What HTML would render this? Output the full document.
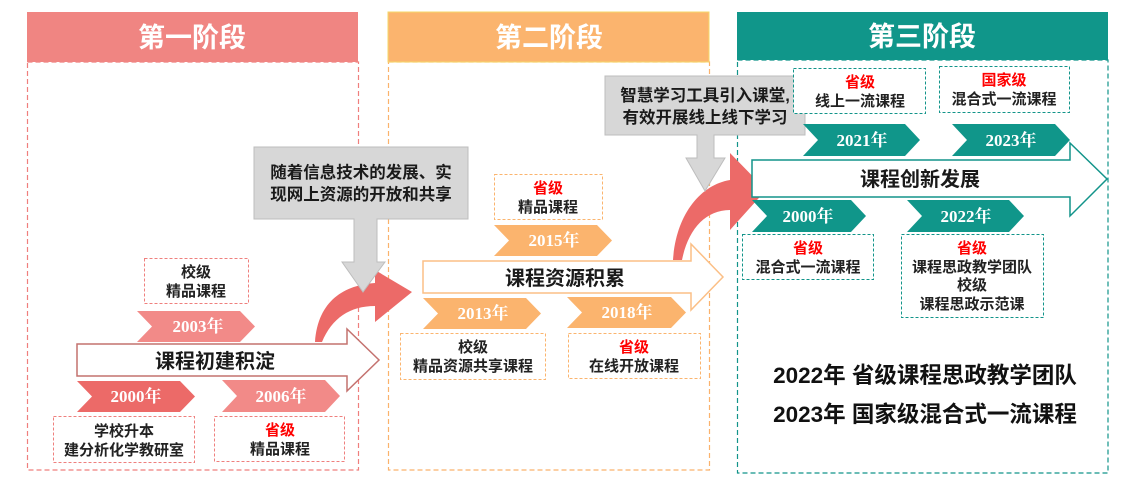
<!DOCTYPE html>
<html><head><meta charset="utf-8"><style>
html,body{margin:0;padding:0;background:#fff;}
svg{display:block;}
text{font-family:"Liberation Sans","Noto Sans CJK SC",sans-serif;font-weight:bold;}
.y{font-family:"Liberation Serif","Noto Serif CJK SC",serif;font-weight:bold;fill:#fff;font-size:17px;}
</style></head><body>
<svg width="1134" height="488" viewBox="0 0 1134 488" xmlns="http://www.w3.org/2000/svg">
<!-- stage frames -->
<rect x="27.5" y="62" width="331" height="408" fill="none" stroke="#ef7f7d" stroke-width="1.2" stroke-dasharray="5,3"/>
<rect x="388.5" y="62" width="321" height="408" fill="none" stroke="#fbb26c" stroke-width="1.2" stroke-dasharray="5,3"/>
<rect x="737.5" y="60" width="370.5" height="413" fill="none" stroke="#12948a" stroke-width="1.2" stroke-dasharray="5,3"/>
<!-- headers -->
<rect x="27" y="12" width="331" height="50" fill="#f08582"/>
<text x="192" y="47" font-size="27" fill="#fff" text-anchor="middle">第一阶段</text>
<rect x="388" y="12" width="321" height="50" fill="#fbb46e" stroke="#f5d76a" stroke-width="1"/>
<text x="549" y="47" font-size="27" fill="#fff" text-anchor="middle">第二阶段</text>
<rect x="737" y="12" width="371" height="48" fill="#10968a"/>
<text x="922" y="46" font-size="27" fill="#fff" text-anchor="middle">第三阶段</text>

<!-- stage 1 -->
<polygon points="77,344 347,344 347,329 379,360 347,391 347,376 77,376" fill="#fff" stroke="#c4726f" stroke-width="1.5"/>
<text x="215" y="368" font-size="20" fill="#1a1a1a" text-anchor="middle">课程初建积淀</text>
<polygon points="137,311 240,311 255,326.5 240,342 137,342 152,326.5" fill="#f28a88"/>
<text class="y" x="198" y="332" text-anchor="middle">2003年</text>
<polygon points="77,381 180,381 195,396.5 180,412 77,412 92,396.5" fill="#ec6a68"/>
<text class="y" x="136" y="402" text-anchor="middle">2000年</text>
<polygon points="222,380 325,380 340,396 325,412 222,412 237,396" fill="#f28a88"/>
<text class="y" x="281" y="402" text-anchor="middle">2006年</text>
<rect x="144.5" y="258.5" width="104" height="45" fill="#fff" stroke="#ef7f7d" stroke-dasharray="3,2"/>
<text x="196" y="277" font-size="15" fill="#222" text-anchor="middle">校级</text>
<text x="196" y="296" font-size="15" fill="#222" text-anchor="middle">精品课程</text>
<rect x="53.5" y="416.5" width="141" height="46" fill="#fff" stroke="#ef7f7d" stroke-dasharray="3,2"/>
<text x="124" y="436" font-size="15" fill="#222" text-anchor="middle">学校升本</text>
<text x="124" y="455" font-size="15" fill="#222" text-anchor="middle">建分析化学教研室</text>
<rect x="214.5" y="416.5" width="130" height="45" fill="#fff" stroke="#ef7f7d" stroke-dasharray="3,2"/>
<text x="280" y="435" font-size="15" fill="#f00" text-anchor="middle">省级</text>
<text x="280" y="454" font-size="15" fill="#222" text-anchor="middle">精品课程</text>

<!-- red arrows (below gray) -->
<path d="M315,342 C318,300 345,285 375,283 L375,270 L412,292 L375,322 L375,306 C350,306 332,318 322,342 Z" fill="#ec6a68"/>
<path d="M673,260 C676,215 700,185 730,180 L730,153 L766,190 L730,230 L730,210 C705,210 688,230 682,260 Z" fill="#ec6a68"/>

<!-- callout 1 -->
<polygon points="254,147 468,147 468,219 377,219 377,262 385,262 363,292 342,262 354,262 354,219 254,219" fill="#d7d7d7" stroke="#bdbdbd" stroke-width="1"/>
<text x="361" y="178" font-size="16.5" fill="#1a1a1a" text-anchor="middle">随着信息技术的发展、实</text>
<text x="361" y="200" font-size="16.5" fill="#1a1a1a" text-anchor="middle">现网上资源的开放和共享</text>

<!-- stage 2 -->
<polygon points="423,261 691,261 691,244 723,277 691,310 691,293 423,293" fill="#fff" stroke="#fbbf86" stroke-width="1.5"/>
<text x="565" y="285" font-size="20" fill="#1a1a1a" text-anchor="middle">课程资源积累</text>
<polygon points="494,225 597,225 612,240.5 597,256 494,256 509,240.5" fill="#fbb46e"/>
<text class="y" x="554" y="246" text-anchor="middle">2015年</text>
<polygon points="423,298 526,298 541,313.5 526,329 423,329 438,313.5" fill="#fbb46e"/>
<text class="y" x="483" y="319" text-anchor="middle">2013年</text>
<polygon points="567,297 671,297 686,312.5 671,328 567,328 582,312.5" fill="#fbb46e"/>
<text class="y" x="627" y="318" text-anchor="middle">2018年</text>
<rect x="494.5" y="174.5" width="108" height="45" fill="#fff" stroke="#fbb46e" stroke-dasharray="3,2"/>
<text x="548" y="193" font-size="15" fill="#f00" text-anchor="middle">省级</text>
<text x="548" y="212" font-size="15" fill="#222" text-anchor="middle">精品课程</text>
<rect x="400.5" y="333.5" width="145" height="46" fill="#fff" stroke="#fbb46e" stroke-dasharray="3,2"/>
<text x="473" y="352" font-size="15" fill="#222" text-anchor="middle">校级</text>
<text x="473" y="371" font-size="15" fill="#222" text-anchor="middle">精品资源共享课程</text>
<rect x="568.5" y="333.5" width="132" height="45" fill="#fff" stroke="#fbb46e" stroke-dasharray="3,2"/>
<text x="634" y="352" font-size="15" fill="#f00" text-anchor="middle">省级</text>
<text x="634" y="371" font-size="15" fill="#222" text-anchor="middle">在线开放课程</text>

<!-- callout 2 -->
<polygon points="605,76 805,76 805,135 714,135 714,158 725,158 705,191 686,158 697,158 697,135 605,135" fill="#d7d7d7" stroke="#bdbdbd" stroke-width="1"/>
<text x="705" y="101" font-size="16.5" fill="#1a1a1a" text-anchor="middle">智慧学习工具引入课堂,</text>
<text x="705" y="123" font-size="16.5" fill="#1a1a1a" text-anchor="middle">有效开展线上线下学习</text>

<!-- stage 3 -->
<polygon points="752,160 1070,160 1070,143 1107,179 1070,216 1070,197 752,197" fill="#fff" stroke="#12948a" stroke-width="1.5"/>
<text x="920" y="186" font-size="20" fill="#1a1a1a" text-anchor="middle">课程创新发展</text>
<polygon points="803,124 905,124 920,140 905,156 803,156 818,140" fill="#10968a"/>
<text class="y" x="862" y="146" text-anchor="middle">2021年</text>
<polygon points="952,124 1055,124 1070,140 1055,156 952,156 967,140" fill="#10968a"/>
<text class="y" x="1011" y="146" text-anchor="middle">2023年</text>
<polygon points="752,200 851,200 866,216 851,232 752,232 767,216" fill="#10968a"/>
<text class="y" x="808" y="222" text-anchor="middle">2000年</text>
<polygon points="907,200 1009,200 1024,216 1009,232 907,232 922,216" fill="#10968a"/>
<text class="y" x="966" y="222" text-anchor="middle">2022年</text>
<rect x="793.5" y="68.5" width="132" height="45" fill="#fff" stroke="#12948a" stroke-dasharray="3,2"/>
<text x="860" y="87" font-size="15" fill="#f00" text-anchor="middle">省级</text>
<text x="860" y="106" font-size="15" fill="#222" text-anchor="middle">线上一流课程</text>
<rect x="939.5" y="66.5" width="130" height="46" fill="#fff" stroke="#12948a" stroke-dasharray="3,2"/>
<text x="1004" y="85" font-size="15" fill="#f00" text-anchor="middle">国家级</text>
<text x="1004" y="104" font-size="15" fill="#222" text-anchor="middle">混合式一流课程</text>
<rect x="742.5" y="234.5" width="131" height="45" fill="#fff" stroke="#12948a" stroke-dasharray="3,2"/>
<text x="808" y="253" font-size="15" fill="#f00" text-anchor="middle">省级</text>
<text x="808" y="272" font-size="15" fill="#222" text-anchor="middle">混合式一流课程</text>
<rect x="901.5" y="234.5" width="142" height="83" fill="#fff" stroke="#12948a" stroke-dasharray="3,2"/>
<text x="972" y="253" font-size="15" fill="#f00" text-anchor="middle">省级</text>
<text x="972" y="272" font-size="15" fill="#222" text-anchor="middle">课程思政教学团队</text>
<text x="972" y="290" font-size="15" fill="#222" text-anchor="middle">校级</text>
<text x="972" y="309" font-size="15" fill="#222" text-anchor="middle">课程思政示范课</text>

<text x="925" y="383" font-size="22.5" fill="#111" text-anchor="middle">2022年 省级课程思政教学团队</text>
<text x="925" y="422" font-size="22.5" fill="#111" text-anchor="middle">2023年 国家级混合式一流课程</text>
</svg>
</body></html>
